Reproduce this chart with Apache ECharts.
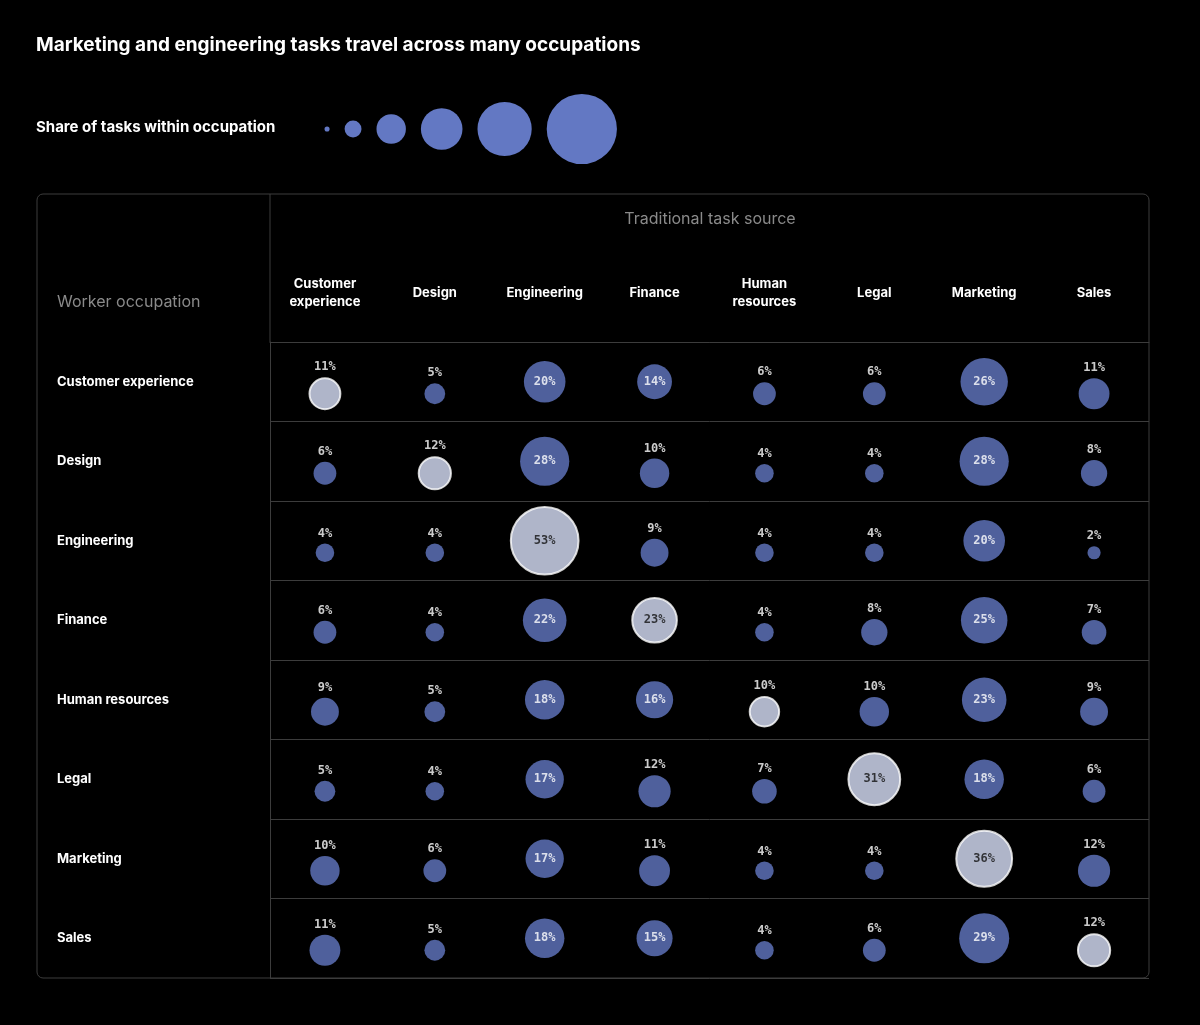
<!DOCTYPE html>
<html><head><meta charset="utf-8">
<script src="https://cdn.jsdelivr.net/npm/echarts@6/dist/echarts.min.js"></script>
<style>html,body{margin:0;background:#000}#container{width:1200px;height:1025px}</style>
</head><body><div id="container"></div>
<script>
var myChart = echarts.init(document.getElementById('container'));

var sources = ['Customer\nexperience', 'Design', 'Engineering', 'Finance', 'Human\nresources', 'Legal', 'Marketing', 'Sales'];
var occupations = ['Customer experience', 'Design', 'Engineering', 'Finance', 'Human resources', 'Legal', 'Marketing', 'Sales'];
var shares = [
  [11, 5, 20, 14, 6, 6, 26, 11],
  [6, 12, 28, 10, 4, 4, 28, 8],
  [4, 4, 53, 9, 4, 4, 20, 2],
  [6, 4, 22, 23, 4, 8, 25, 7],
  [9, 5, 18, 16, 10, 10, 23, 9],
  [5, 4, 17, 12, 7, 31, 18, 6],
  [10, 6, 17, 11, 4, 4, 36, 12],
  [11, 5, 18, 15, 4, 6, 29, 12]
];
var legendValues = [0.3, 3.3, 10, 20, 34, 57];

var blue = '#6378c3', light = '#dbe2fb';
function size(v) { return 9.3 * Math.sqrt(v); }

var G = { left: 270, right: 51, top: 342, bottom: 47 };
var mono = '"DejaVu Sans Mono", monospace';

var data = [];
shares.forEach(function(row, r) {
  row.forEach(function(v, c) {
    var diag = r === c, inside = v >= 13;
    data.push({
      value: [c, r, v],
      symbolSize: size(v),
      symbolOffset: inside ? [0, 0] : [0, 12],
      itemStyle: diag ? { color: light, borderColor: '#fff', borderWidth: 2 } : { color: blue },
      label: {
        show: true,
        position: inside ? 'inside' : 'top',
        distance: 4,
        formatter: v + '%',
        color: diag && inside ? '#111' : '#fff',
        fontFamily: mono, fontWeight: 'bold', fontSize: 12
      }
    });
  });
});

// legend bubbles packed with a fixed gap
var graphics = [];
var x = 324.5;
legendValues.forEach(function(v) {
  var r = size(v) / 2;
  graphics.push({ type: 'circle', shape: { cx: x + r, cy: 129, r: r }, style: { fill: blue } });
  x += 2 * r + 15;
});
graphics.push(
  { type: 'rect', shape: { x: 37, y: 194, width: 1112, height: 784, r: 6 }, style: { fill: 'none', stroke: '#3c3c3c', lineWidth: 1 } },
  { type: 'line', shape: { x1: 270, y1: 194, x2: 270, y2: 342 }, style: { stroke: '#3c3c3c', lineWidth: 1 } },
  { type: 'text', left: 36, top: 36, style: { text: 'Marketing and engineering tasks travel across many occupations', fill: '#fff', font: 'bold 19px Inter, "Noto Sans", sans-serif' } },
  { type: 'text', left: 36, top: 120, style: { text: 'Share of tasks within occupation', fill: '#fff', font: 'bold 15px Inter, "Noto Sans", sans-serif' } },
  { type: 'text', left: 57, top: 294, style: { text: 'Worker occupation', fill: '#8a8a8a', font: '16px Inter, "Noto Sans", sans-serif' } },
  { type: 'text', x: 710, y: 219, style: { text: 'Traditional task source', fill: '#8a8a8a', font: '16px Inter, "Noto Sans", sans-serif', textAlign: 'center', textVerticalAlign: 'middle' } }
);

var option = {
  backgroundColor: '#000',
  grid: G,
  xAxis: {
    type: 'category', position: 'top', data: sources,
    axisLine: { show: true, lineStyle: { color: '#3c3c3c' } },
    axisTick: { show: false },
    axisLabel: { color: '#fff', fontWeight: 'bold', fontSize: 13, lineHeight: 18, fontFamily: 'Inter, "Noto Sans", sans-serif', margin: 49, verticalAlign: 'middle' }
  },
  yAxis: {
    type: 'category', inverse: true, data: occupations,
    axisLine: { show: true, lineStyle: { color: '#3c3c3c' } },
    axisTick: { show: false },
    splitLine: { show: true, lineStyle: { color: '#3c3c3c' } },
    axisLabel: { color: '#fff', fontWeight: 'bold', fontSize: 13, fontFamily: 'Inter, "Noto Sans", sans-serif', align: 'left', margin: 213 }
  },
  graphic: graphics,
  series: [{ type: 'scatter', data: data, animation: false }]
};

myChart.setOption(option);
</script></body></html>
